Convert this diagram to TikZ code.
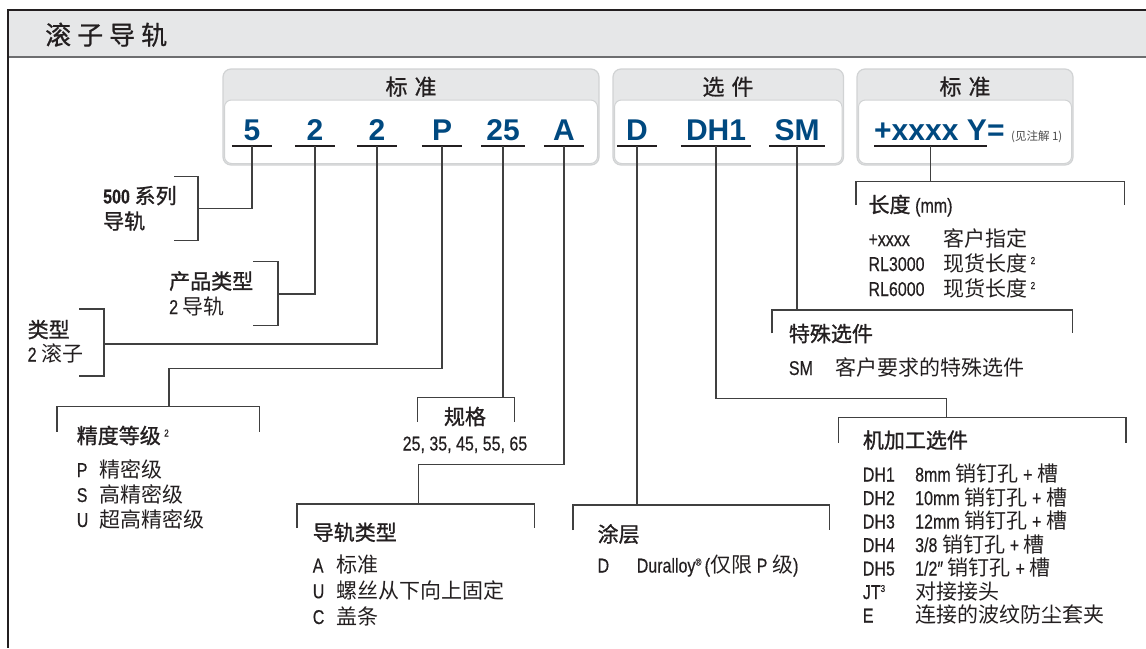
\documentclass[tikz,border=0pt]{standalone}
\usepackage{fontspec}
\setmainfont{Noto Sans CJK SC}
\newfontfamily\zhm{Noto Sans CJK SC}[FakeBold=1.2]
\newfontfamily\zht{Noto Sans CJK SC}[FakeBold=0.6]
\newfontfamily\cnd{Liberation Sans}[FakeStretch=0.8,FakeBold=0.4]
\newfontfamily\cod{Liberation Sans}
\usepackage{tikz}
\usetikzlibrary{positioning,calc}
\definecolor{ink}{RGB}{35,31,32}
\definecolor{navy}{RGB}{0,73,128}
\definecolor{bandgray}{RGB}{230,231,232}
\definecolor{rimgray}{RGB}{209,211,212}
\definecolor{wirec}{RGB}{64,64,64}
\newcommand{\lt}[1]{{\cnd\fontsize{20pt}{20pt}\selectfont #1}}
\newcommand{\hd}[1]{{\zhm #1}}
\newcommand{\supr}[1]{\raisebox{7pt}{\cnd\fontsize{10pt}{10pt}\selectfont #1}}
\newcommand{\ent}[3]{\makebox[#1][l]{\lt{#2}}#3}

\begin{document}
\begin{tikzpicture}[x=1pt,y=-1pt,
  font=\fontsize{21pt}{25pt}\selectfont,
  text=ink,
  code/.style={font=\cod\bfseries\fontsize{30pt}{30pt}\selectfont,text=navy,anchor=base,text height=22pt,text depth=0pt,inner ysep=6pt,inner xsep=5pt,minimum width=40pt},
  blk/.style={align=left,anchor=base west,inner sep=0pt},
  boxtitle/.style={anchor=base,inner sep=0pt,font=\zht\fontsize{22pt}{22pt}\selectfont},
  wire/.style={draw=wirec,line width=1.3pt},
  box/.style={fill=bandgray,draw=rimgray,line width=1.2pt,rounded corners=8pt},
  pane/.style={fill=white,draw=rimgray,line width=1pt,rounded corners=7pt},
]
\useasboundingbox (0,0) rectangle (1146,648);
\fill[bandgray] (8,10) rectangle (1146,57);
\draw[line width=1.5pt,draw={rgb,255:red,109;green,110;blue,112}] (8,57) -- (1146,57);
\draw[line width=2.4pt,ink] (1146,10) -- (8,10) -- (8,648);
\node[anchor=base west,inner sep=0pt,font=\zht\fontsize{26pt}{26pt}\selectfont] (ttl) at (45,44.6) {滚\hspace{6pt}子\hspace{6pt}导\hspace{6pt}轨};

\draw[box] (223,69) rectangle (599,165);
\draw[pane] (224.5,100) rectangle (597.5,163.5);
\draw[box] (613,69) rectangle (843.5,165);
\draw[pane] (614.5,100) rectangle (842,163.5);
\draw[box] (857,69) rectangle (1073,165);
\draw[pane] (858.5,100) rectangle (1071.5,163.5);
\node[boxtitle] (std1) at (411,95) {标\hspace{7pt}准};
\node[boxtitle] (opt) at (728,95) {选\hspace{7pt}件};
\node[boxtitle] (std2) at (965,95) {标\hspace{7pt}准};

\node[code] (c5) at (252,140) {5};
\node[code] (c2a) at (315,140) {2};
\node[code] (c2b) at (377,140) {2};
\node[code] (cP) at (442,140) {P};
\node[code] (c25) at (503,140) {25};
\node[code] (cA) at (564,140) {A};
\node[code] (cD) at (637,140) {D};
\node[code] (cDH) at (716,140) {DH1};
\node[code] (cSM) at (797,140) {SM};
\node[code,inner xsep=0pt] (cY) at (930.5,140) {+xxxx Y};
\node[code,anchor=base west,inner xsep=0pt,minimum width=0pt] (cEq) at (cY.base east) {=};
\node[anchor=base west,inner sep=0pt,font=\fontsize{11.5pt}{11.5pt}\selectfont,text=black!70] (note) at ([xshift=6pt]cEq.base east) {(见注解 1)};
\foreach \c in {c5,c2a,c2b,cP,c25,cA,cD,cDH,cSM,cY}
  \draw[line width=1.5pt,ink] (\c.south west) -- (\c.south east);

\draw[wire] (174,176.7) -| (198,240.7) -- (174,240.7);
\coordinate (a500) at (198,208.7);
\draw[wire] (253,261.7) -| (278,325.7) -- (253,325.7);
\coordinate (aprod) at (278,294);
\draw[wire] (79,309) -| (104,376) -- (79,376);
\coordinate (atype) at (104,344);
\draw[wire] (57,431.7) |- (259.6,406.7) -- (259.6,431.7);
\coordinate (aacc) at (169,406.7);
\draw[wire] (417.5,421.7) |- (514.3,397.5) -- (514.3,421.7);
\coordinate (asize) at (503,397.5);
\draw[wire] (297,528) |- (534.6,504) -- (534.6,528);
\coordinate (arail) at (418.3,504);
\draw[wire] (573,530) |- (829.8,505) -- (829.8,530);
\coordinate (acoat) at (637,505);
\draw[wire] (838.4,442.7) |- (1126,417.7) -- (1126,442.7);
\coordinate (amach) at (946.8,417.7);
\draw[wire] (772,333.3) |- (1072.7,310) -- (1072.7,333.3);
\coordinate (aspec) at (797,310);
\draw[wire] (856,205) |- (1124.3,181.7) -- (1124.3,205);
\coordinate (alen) at (930.5,181.7);

\draw[wire] (c5.south) |- (a500);
\draw[wire] (c2a.south) |- (aprod);
\draw[wire] (c2b.south) |- (atype);
\draw[wire] (cP.south) |- ($(aacc)+(0,-38)$) -- (aacc);
\draw[wire] (c25.south) -- (asize);
\draw[wire] (cA.south) |- ($(arail)+(0,-39.5)$) -- (arail);
\draw[wire] (cD.south) -- (acoat);
\draw[wire] (cDH.south) |- ($(amach)+(0,-19.4)$) -- (amach);
\draw[wire] (cSM.south) -- (aspec);
\draw[wire] (cY.south) -- (alen);

\node[blk,font=\fontsize{21pt}{25.5pt}\selectfont] (l500) at (103,229) {\hd{\lt{\bfseries 500} 系列}\\\hd{导轨}};
\node[blk] (lprod) at (169,314) {\hd{产品类型}\\\lt{2} 导轨};
\node[blk,font=\fontsize{21pt}{24pt}\selectfont] (ltype) at (27.5,361.5) {\hd{类型}\\\lt{2} 滚子};
\node[blk] (lacc) at (76.6,527) {\hd{精度等级}\,\supr{2}\\[8.5pt]\ent{22.4pt}{P}{精密级}\\\ent{22.4pt}{S}{高精密级}\\\ent{22.4pt}{U}{超高精密级}};
\node[align=center,anchor=base,inner sep=0pt,font=\fontsize{21pt}{26pt}\selectfont] (lsize) at (465,450.5) {\hd{规格}\\\lt{25, 35, 45, 55, 65}};
\node[blk,font=\fontsize{21pt}{25.75pt}\selectfont] (lrail) at (312.6,624) {\hd{导轨类型}\\[6.5pt]\ent{24pt}{A}{标准}\\\ent{24pt}{U}{螺丝从下向上固定}\\\ent{24pt}{C}{盖条}};
\node[blk] (lcoat) at (597.4,572.5) {\hd{涂层}\\[5.5pt]\ent{39.2pt}{D}{\lt{Duralloy}\supr{®}\lt{\,(}仅限 \lt{P} 级\lt{)}}};
\node[blk,font=\fontsize{21pt}{23.5pt}\selectfont] (lmach) at (862.7,622.5) {\hd{机加工选件}\\[10pt]\ent{52.3pt}{DH1}{\lt{8mm} 销钉孔 \lt{+} 槽}\\\ent{52.3pt}{DH2}{\lt{10mm} 销钉孔 \lt{+} 槽}\\\ent{52.3pt}{DH3}{\lt{12mm} 销钉孔 \lt{+} 槽}\\\ent{52.3pt}{DH4}{\lt{3/8} 销钉孔 \lt{+} 槽}\\\ent{52.3pt}{DH5}{\lt{1/2″} 销钉孔 \lt{+} 槽}\\\ent{52.3pt}{JT\supr{3}}{对接接头}\\\ent{52.3pt}{E}{连接的波纹防尘套夹}};
\node[blk] (lspec) at (788.7,375) {\hd{特殊选件}\\[8.5pt]\ent{47pt}{SM}{客户要求的特殊选件}};
\node[blk] (llen) at (868.3,296) {\hd{长度} \lt{(mm)}\\[8.5pt]\ent{74.7pt}{+xxxx}{客户指定}\\\ent{74.7pt}{RL3000}{现货长度\,\supr{2}}\\\ent{74.7pt}{RL6000}{现货长度\,\supr{2}}};
\end{tikzpicture}
\end{document}
